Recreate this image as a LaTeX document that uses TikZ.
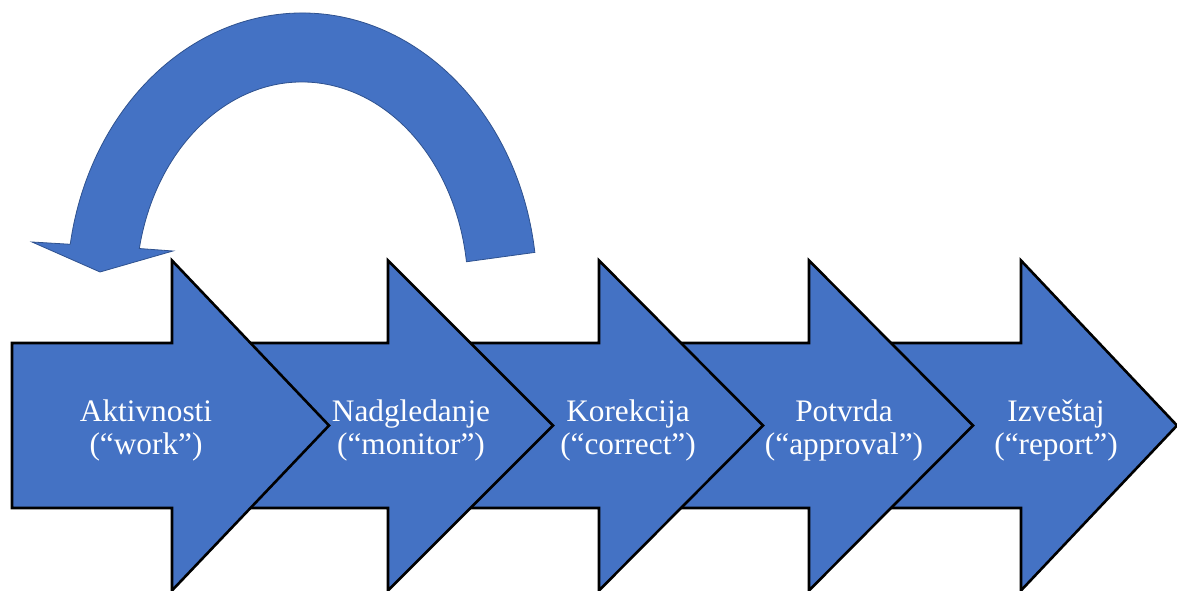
\documentclass[tikz,border=0pt]{standalone}
\usepackage{fontspec}
\setmainfont{Liberation Serif}
\definecolor{flowblue}{HTML}{4472C4}
\definecolor{flowedge}{HTML}{2F528F}
\begin{document}
\begin{tikzpicture}[x=1pt,y=1pt,
  stagearrow/.style={fill=flowblue, draw=black, line width=2.6pt, line join=miter},
  stagelabel/.style={text=white, font=\fontsize{31.3}{33}\selectfont, align=center, anchor=base, inner sep=0pt},
  looparrow/.style={fill=flowblue, draw=flowedge, line width=0.8pt, line join=miter}]
\useasboundingbox (0,0) rectangle (1177,591);
% process stages, drawn right to left so each head lies over the next body
\foreach \L/\B/\T in {861/1021/1177, 649/809/973, 439/599/763, 228/388/553, 12/172/329} {
  \draw[stagearrow] (\L,83) -- (\B,83) -- (\B,0.5) -- (\T,165.5) -- (\B,330.5) -- (\B,248) -- (\L,248) -- cycle;
}
% stage labels (anchored on the baseline of the second line)
\node[stagelabel] (work)     at (146,136)  {Aktivnosti\\(“work”)};
\node[stagelabel] (monitor)  at (411,136)  {Nadgledanje\\(“monitor”)};
\node[stagelabel] (correct)  at (628,136)  {Korekcija\\(“correct”)};
\node[stagelabel] (approval) at (844,136)  {Potvrda\\(“approval”)};
\node[stagelabel] (report)   at (1056,136) {Izveštaj\\(“report”)};
% feedback loop from monitoring back to the work stage
\draw[looparrow] (534.83,338.59)
  arc[start angle=7.8, end angle=170.5, x radius=235pt, y radius=277pt]
  -- (32,349) -- (100,319) -- (173,340) -- (139.33,342.47)
  arc[start angle=168.5, end angle=7.8, x radius=166pt, y radius=208pt]
  -- cycle;
\end{tikzpicture}
\end{document}
